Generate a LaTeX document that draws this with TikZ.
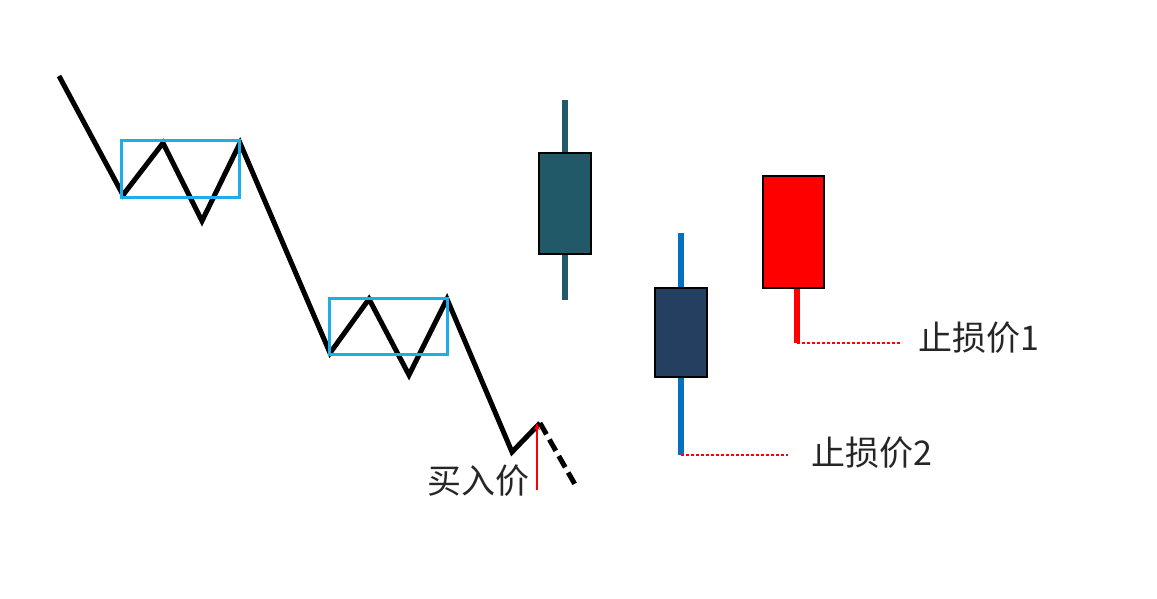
\documentclass[tikz,border=0pt]{standalone}
\usepackage{fontspec}
\newfontfamily\cjk{Noto Sans CJK SC}
\usetikzlibrary{arrows.meta}
\definecolor{boxblue}{HTML}{1CAEE8}
\definecolor{tealbody}{HTML}{215968}
\definecolor{navybody}{HTML}{243F60}
\definecolor{wickblue}{HTML}{0070C0}
\definecolor{stopred}{HTML}{FF0000}
\tikzset{
  trend/.style={line width=5pt, black},
  rangebox/.style={draw=boxblue, line width=3pt},
  wick/.style={line width=5.5pt},
  body/.style={draw=black, line width=1.5pt},
  stopline/.style={draw=stopred, line width=1.2pt, dash pattern=on 3pt off 2pt},
  lbl/.style={font=\cjk\fontsize{34}{38}\selectfont, text=black!85, inner sep=0pt},
}
\begin{document}
\begin{tikzpicture}[x=1pt,y=-1pt]
\useasboundingbox (0,0) rectangle (1157,599);
% trend zigzag
\coordinate (p0) at (59,76);
\coordinate (p1) at (123,195);
\coordinate (p2) at (163,143);
\coordinate (p3) at (202,221);
\coordinate (p4) at (240,143);
\coordinate (p5) at (330,353);
\coordinate (p6) at (369,299);
\coordinate (p7) at (409,375);
\coordinate (p8) at (447,299);
\coordinate (p9) at (512,452);
\coordinate (p10) at (540,423);
\coordinate (p11) at (577,488);
\draw[trend] (p0) -- (p1) -- (p2) -- (p3) -- (p4) -- (p5) -- (p6) -- (p7) -- (p8) -- (p9) -- (p10);
\draw[trend, dash pattern=on 13pt off 6pt] (p10) -- (p11);
% range boxes
\draw[rangebox] (121,141) rectangle (239,197);
\draw[rangebox] (329,298) rectangle (447,354);
% buy arrow and label
\coordinate (a0) at (537,490);
\coordinate (a1) at (537,423);
\draw[stopred, line width=1.3pt, -{Stealth[length=7pt,width=6pt]}] (a0) -- (a1);
\node[lbl] (buy) at (478,481) {买入价};
% candle 1
\coordinate (c1t) at (565,100);
\coordinate (c1b) at (565,300);
\draw[wick, tealbody] (c1t) -- (c1b);
\draw[body, fill=tealbody] (539,153) rectangle (591,254);
% candle 2
\coordinate (c2t) at (681,233);
\coordinate (c2b) at (681,455);
\draw[wick, wickblue] (c2t) -- (c2b);
\draw[body, fill=navybody] (655,288) rectangle (707,377);
% candle 3
\coordinate (c3t) at (797,288);
\coordinate (c3b) at (797,343);
\draw[wick, stopred] (c3t) -- (c3b);
\draw[body, fill=stopred] (763,176) rectangle (824,288);
% stop lines and labels
\coordinate (s1e) at (902,343);
\coordinate (s2e) at (788,455);
\draw[stopline] (c3b) -- (s1e);
\draw[stopline] (c2b) -- (s2e);
\node[lbl, anchor=west] (stop1) at (918,338) {止损价1};
\node[lbl, anchor=west] (stop2) at (811,453) {止损价2};
\end{tikzpicture}
\end{document}
